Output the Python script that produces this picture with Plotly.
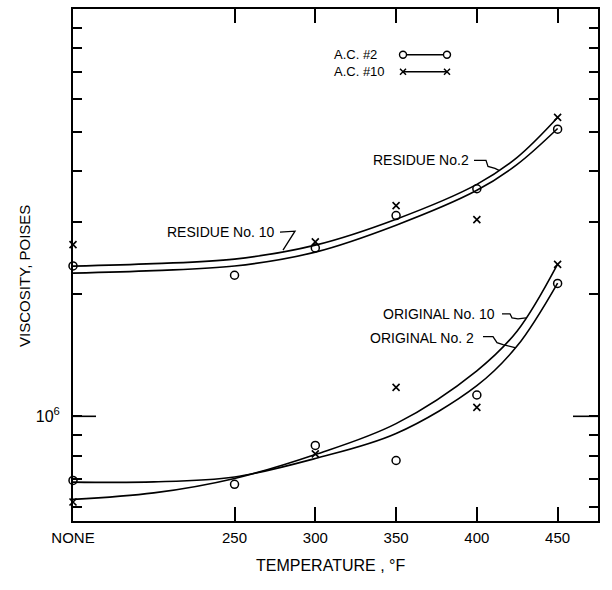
import plotly.graph_objects as go

# ---------------- data ----------------
temps_ac2 = [150, 250, 300, 350, 400, 450]          # 150 = "NONE"
residue_ac2 = [2.34e6, 2.22e6, 2.59e6, 3.11e6, 3.62e6, 5.07e6]
original_ac2 = [0.696e6, 0.681e6, 0.848e6, 0.779e6, 1.128e6, 2.12e6]

temps_ac10 = [150, 300, 350, 400, 450]
residue_ac10 = [2.64e6, 2.68e6, 3.29e6, 3.04e6, 5.42e6]
original_ac10 = [0.616e6, 0.809e6, 1.178e6, 1.052e6, 2.36e6]

# fitted curves
curve_temps = [150, 200, 250, 300, 350, 400, 425, 450]
curve_residue_10 = [2.338e6, 2.371e6, 2.432e6, 2.632e6, 3.048e6, 3.711e6, 4.322e6, 5.413e6]
curve_residue_2 = [2.247e6, 2.279e6, 2.338e6, 2.530e6, 2.946e6, 3.588e6, 4.155e6, 5.089e6]
curve_original_10 = [0.6253e6, 0.6486e6, 0.7040e6, 0.8058e6, 0.9597e6, 1.2937e6, 1.6206e6, 2.3648e6]
curve_original_2 = [0.6894e6, 0.6902e6, 0.7099e6, 0.7879e6, 0.9072e6, 1.1889e6, 1.4893e6, 2.1242e6]

x_tickvals = [150, 250, 300, 350, 400, 450]
x_ticktext = ["NONE", "250", "300", "350", "400", "450"]
y_tickvals = [0.6e6, 0.7e6, 0.8e6, 0.9e6, 1e6, 2e6, 3e6, 4e6, 5e6, 6e6, 7e6, 8e6, 9e6]
y_ticktext = ["", "", "", "", "10<sup>6</sup>", "", "", "", "", "", "", "", ""]

curve_labels = ["RESIDUE No. 10", "RESIDUE No.2", "ORIGINAL No. 10", "ORIGINAL No. 2"]
legend_labels = ["A.C. #2", "A.C. #10"]

# ---------------- layout geometry (pixels) ----------------
W, H = 612, 590
L, R, T, B = 73, 598, 7, 521
X_RANGE = [150, 475]
Y_RANGE = [5.743, 7.0]
FONT = "Liberation Sans"


def px(x):
    return (x - L) / (R - L)


def py(y):
    return (B - y) / (B - T)


fig = go.Figure()

line_style = dict(color="black", width=1.6, shape="spline", smoothing=1.0)
for ys in [curve_residue_10, curve_residue_2, curve_original_10, curve_original_2]:
    fig.add_trace(go.Scatter(x=curve_temps, y=ys, mode="lines", line=line_style,
                             showlegend=False, hoverinfo="skip"))

circ = dict(symbol="circle-open", size=8, color="black", line=dict(width=1.5, color="black"))
xmk = dict(symbol="x-thin", size=7, color="black", line=dict(width=1.6, color="black"))
fig.add_trace(go.Scatter(x=temps_ac2, y=residue_ac2, mode="markers", marker=circ,
                         showlegend=False, cliponaxis=False))
fig.add_trace(go.Scatter(x=temps_ac2, y=original_ac2, mode="markers", marker=circ,
                         showlegend=False, cliponaxis=False))
fig.add_trace(go.Scatter(x=temps_ac10, y=residue_ac10, mode="markers", marker=xmk,
                         showlegend=False, cliponaxis=False))
fig.add_trace(go.Scatter(x=temps_ac10, y=original_ac10, mode="markers", marker=xmk,
                         showlegend=False, cliponaxis=False))

shapes = []
annotations = []

# long tick at 10^6 on both sides
y6 = (6 - Y_RANGE[0]) / (Y_RANGE[1] - Y_RANGE[0])
shapes.append(dict(type="line", xref="paper", yref="paper", x0=0, x1=23 / (R - L),
                   y0=y6, y1=y6, line=dict(color="black", width=1.6)))
shapes.append(dict(type="line", xref="paper", yref="paper", x0=1 - 25 / (R - L), x1=1,
                   y0=y6, y1=y6, line=dict(color="black", width=1.6)))

# legend
for label, ly, kind in [(legend_labels[0], 53, "o"), (legend_labels[1], 70, "x")]:
    annotations.append(dict(text=label, xref="paper", yref="paper", x=px(332), y=py(ly),
                            xanchor="left", yanchor="middle", showarrow=False,
                            font=dict(family=FONT, size=13, color="black")))
    shapes.append(dict(type="line", xref="paper", yref="paper", x0=px(404), x1=px(446),
                       y0=py(ly), y1=py(ly), line=dict(color="black", width=1.5)))
    for cx in (403, 447):
        if kind == "o":
            shapes.append(dict(type="circle", xref="paper", yref="paper",
                               xsizemode="pixel", ysizemode="pixel",
                               xanchor=px(cx), yanchor=py(ly), x0=-3.5, x1=3.5, y0=-3.5, y1=3.5,
                               fillcolor="white", line=dict(color="black", width=1.4)))
        else:
            shapes.append(dict(type="path", xref="paper", yref="paper",
                               xsizemode="pixel", ysizemode="pixel",
                               xanchor=px(cx), yanchor=py(ly),
                               path="M -3,-3 L 3,3 M -3,3 L 3,-3",
                               line=dict(color="black", width=1.5)))

# curve labels
label_pos = [(221, 231), (421, 159), (439, 313), (422, 337)]
for text, (cx, cy) in zip(curve_labels, label_pos):
    annotations.append(dict(text=text, xref="paper", yref="paper", x=px(cx), y=py(cy),
                            xanchor="center", yanchor="middle", showarrow=False,
                            font=dict(family=FONT, size=14, color="black")))

leaders = [
    [(280, 231), (295, 230), (283, 249)],
    [(474, 159), (486, 159), (488, 165), (495, 167), (499, 169)],
    [(502, 313), (510, 313), (512, 317), (518, 318), (526, 317)],
    [(483, 336), (493, 336), (497, 342), (503, 344), (515, 347)],
]
for pts in leaders:
    path = "M " + " L ".join(f"{px(a):.5f},{py(b):.5f}" for a, b in pts)
    shapes.append(dict(type="path", xref="paper", yref="paper", path=path,
                       line=dict(color="black", width=1.3)))

# axis titles
annotations.append(dict(text="TEMPERATURE , °F", xref="paper", yref="paper",
                        x=px(330), y=py(566), xanchor="center", yanchor="middle",
                        showarrow=False, font=dict(family=FONT, size=16, color="black")))
annotations.append(dict(text="VISCOSITY, POISES", xref="paper", yref="paper",
                        x=px(25), y=py(275), xanchor="center", yanchor="middle",
                        textangle=-90, showarrow=False,
                        font=dict(family=FONT, size=15, color="black")))

fig.update_layout(
    width=W, height=H,
    margin=dict(l=L, r=W - R, t=T, b=H - B, pad=0),
    paper_bgcolor="white", plot_bgcolor="white",
    showlegend=False,
    shapes=shapes, annotations=annotations,
    font=dict(family=FONT, color="black"),
    xaxis=dict(range=X_RANGE, tickvals=x_tickvals, ticktext=x_ticktext,
               ticks="inside", ticklen=14, tickwidth=1.5, tickcolor="black",
               showline=True, linecolor="black", linewidth=2, mirror="ticks",
               showgrid=False, zeroline=False, ticklabelstandoff=2,
               tickfont=dict(family=FONT, size=15, color="black")),
    yaxis=dict(type="log", range=Y_RANGE, tickvals=y_tickvals, ticktext=y_ticktext,
               ticks="inside", ticklen=9, tickwidth=1.5, tickcolor="black",
               showline=True, linecolor="black", linewidth=2, mirror="ticks",
               showgrid=False, zeroline=False, ticklabelstandoff=8,
               tickfont=dict(family=FONT, size=16, color="black")),
)

fig.write_html("out.html")
